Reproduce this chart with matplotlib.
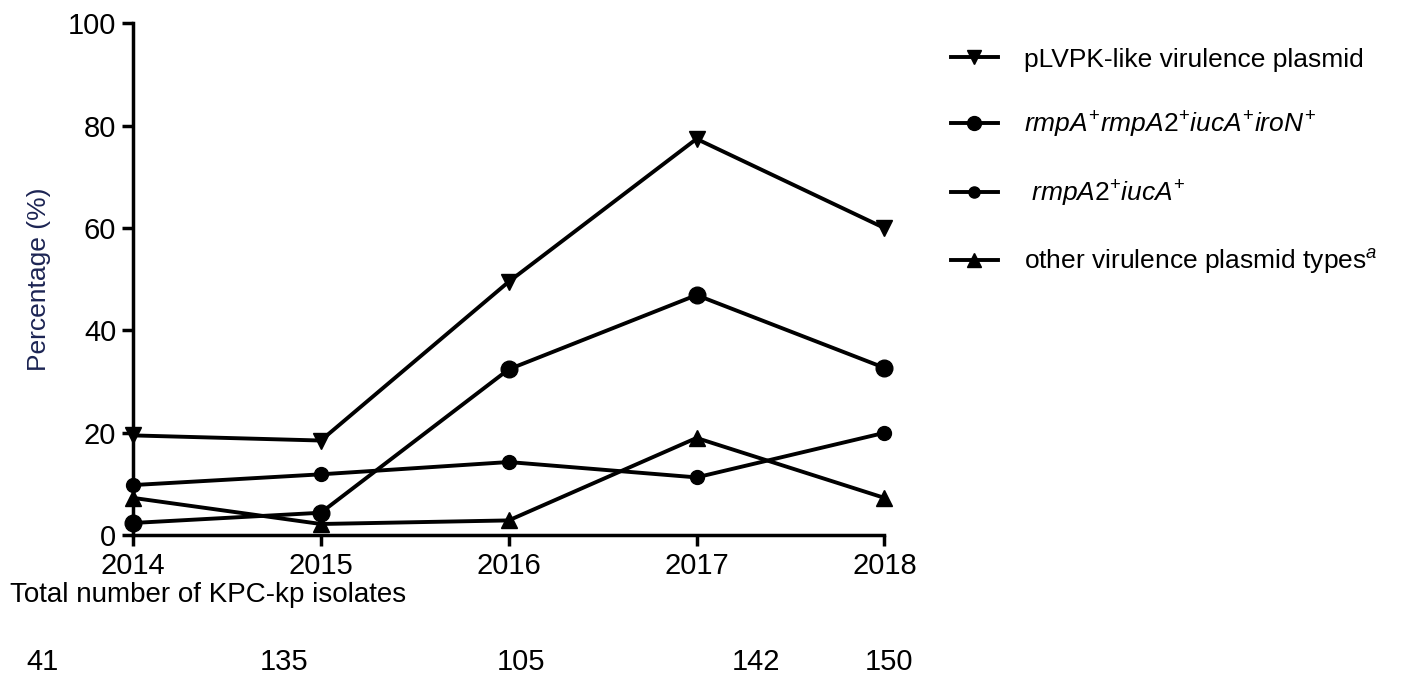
import matplotlib
matplotlib.use("Agg")
import matplotlib.pyplot as plt
from matplotlib.lines import Line2D

plt.rcParams['font.family'] = ['Liberation Sans', 'DejaVu Sans']
plt.rcParams['mathtext.fontset'] = 'custom'
plt.rcParams['mathtext.rm'] = 'Liberation Sans'
plt.rcParams['mathtext.it'] = 'Liberation Sans:italic'

years = [2014, 2015, 2016, 2017, 2018]
totals = [41, 135, 105, 142, 150]
plvpk = [19.5, 18.5, 49.5, 77.4, 60.0]
all_four = [2.4, 4.4, 32.4, 46.9, 32.7]
rmpa2_iuca = [9.8, 11.9, 14.3, 11.3, 20.0]
other = [7.3, 2.2, 2.9, 19.0, 7.3]

labels = [
    'pLVPK-like virulence plasmid',
    r'$\it{rmpA}^{+}\it{rmpA2}^{+}\it{iucA}^{+}\it{iroN}^{+}$',
    r' $\it{rmpA2}^{+}\it{iucA}^{+}$',
    r'other virulence plasmid types$^{a}$',
]
markers = ['v', 'o', 'o', '^']
sizes = [12, 12, 10, 12]
series = [plvpk, all_four, rmpa2_iuca, other]

fig = plt.figure(figsize=(14.15, 6.81), dpi=100)
ax = fig.add_axes([0.094, 0.214, 0.531, 0.752])

handles = []
for vals, m, ms, lab in zip(series, markers, sizes, labels):
    ax.plot(years, vals, color='black', lw=2.8, marker=m, ms=ms, clip_on=False, zorder=3)
    handles.append(Line2D([], [], color='black', lw=2.8, marker=m, ms=ms - 2, label=lab))

ax.set_xlim(2014, 2018)
ax.set_ylim(0, 100)
ax.set_xticks(years)
ax.set_yticks([0, 20, 40, 60, 80, 100])
for s in ['top', 'right']:
    ax.spines[s].set_visible(False)
ax.spines['left'].set_linewidth(2.5)
ax.spines['bottom'].set_linewidth(2.5)
ax.tick_params(axis='both', width=2.5, length=8, labelsize=21, pad=4)
ax.set_ylabel('Percentage (%)', fontsize=19, color='#1c2453', labelpad=12)

fig.text(0.007, 0.127, 'Total number of KPC-kp isolates', fontsize=20, va='center')
total_x = [0.030, 0.201, 0.368, 0.534, 0.628]
for tx, n in zip(total_x, totals):
    fig.text(tx, 0.028, str(n), fontsize=21, ha='center', va='center')

fig.legend(handles=handles, loc='upper left', bbox_to_anchor=(0.655, 0.965),
           frameon=False, fontsize=19, handlelength=1.8, handletextpad=1.0,
           labelspacing=1.45)

fig.savefig('out.png', dpi=100)
